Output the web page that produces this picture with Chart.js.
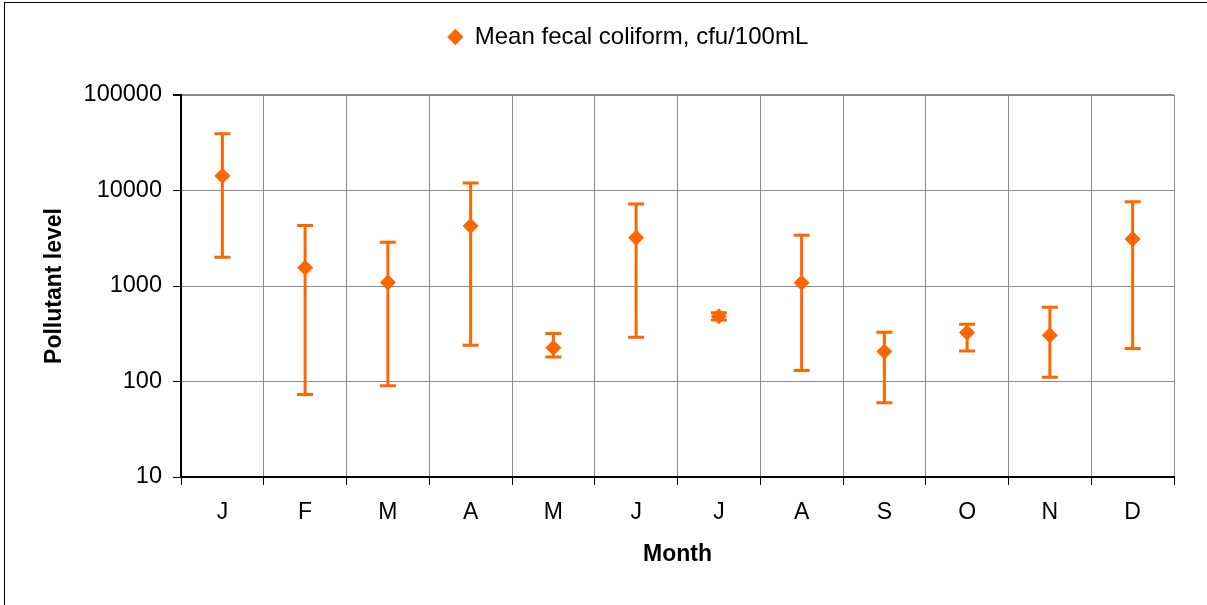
<!DOCTYPE html>
<html>
<head>
<meta charset="utf-8">
<script src="https://cdn.jsdelivr.net/npm/chart.js@4"></script>
<style>
  body { margin: 0; background: #fff; }
  #wrap { position: relative; width: 1207px; height: 605px; }
  #frame { position: absolute; left: 4px; top: 2px; right: 0; bottom: 0;
           border-left: 1px solid #000; border-top: 1px solid #000; pointer-events: none; }
</style>
</head>
<body>
<div id="wrap">
  <canvas id="coliformChart" width="1207" height="605"></canvas>
  <div id="frame"></div>
</div>
<script>
// Monthly fecal coliform
const months = ['J', 'F', 'M', 'A', 'M', 'J', 'J', 'A', 'S', 'O', 'N', 'D'];
const meanValues = [14250, 1550, 1090, 4260, 226, 3200, 482, 1080, 206, 325, 305, 3100];
const upperValues = [39300, 4300, 2880, 11950, 318, 7200, 525, 3400, 328, 398, 600, 7620];
const lowerValues = [2000, 73, 90, 240, 180, 290, 440, 130, 60, 209, 111, 221];
const yTickValues = [10, 100, 1000, 10000, 100000];

const orange = '#FF6600';
const gridGray = '#8c8c8c';
Chart.defaults.font.family = "'Liberation Sans', Arial, sans-serif";
Chart.defaults.color = '#000';

// Error bars drawn under the markers
const errorBars = {
    id: 'errorBars',
    beforeDatasetsDraw(chart) {
        const { ctx, scales: { y } } = chart;
        const meta = chart.getDatasetMeta(0);
        ctx.save();
        ctx.strokeStyle = orange;
        ctx.lineWidth = 3;
        meta.data.forEach((pt, i) => {
            const top = y.getPixelForValue(upperValues[i]);
            const bottom = y.getPixelForValue(lowerValues[i]);
            ctx.beginPath();
            ctx.moveTo(pt.x, top);
            ctx.lineTo(pt.x, bottom);
            ctx.moveTo(pt.x - 8, top);
            ctx.lineTo(pt.x + 8, top);
            ctx.moveTo(pt.x - 8, bottom);
            ctx.lineTo(pt.x + 8, bottom);
            ctx.stroke();
        });
        ctx.restore();
    }
};

// Fixed legend height and a small horizontal nudge
const legendBox = {
    id: 'legendBox',
    beforeInit(chart) {
        const originalFit = chart.legend.fit;
        chart.legend.fit = function fit() {
            originalFit.bind(chart.legend)();
            this.height = 95;
        };
    },
    afterLayout(chart) {
        chart.legend.left += 41;
        chart.legend.right += 41;
    }
};

new Chart(document.getElementById('coliformChart'), {
    type: 'line',
    data: {
        labels: months,
        datasets: [{
            label: 'Mean fecal coliform, cfu/100mL',
            data: meanValues,
            showLine: false,
            pointStyle: 'rectRot',
            pointRadius: 7.5,
            pointHoverRadius: 7.5,
            pointBorderWidth: 1,
            backgroundColor: orange,
            borderColor: orange
        }]
    },
    options: {
        responsive: false,
        animation: false,
        layout: { padding: { right: 33 } },
        plugins: {
            legend: {
                display: true,
                position: 'top',
                labels: {
                    usePointStyle: true,
                    boxHeight: 11,
                    pointStyleWidth: 15,
                    padding: 25,
                    font: { size: 24 },
                    color: '#000'
                }
            },
            tooltip: { enabled: false }
        },
        scales: {
            x: {
                offset: true,
                afterFit(scale) { scale.height = 128; },
                grid: {
                    offset: true,
                    color: gridGray,
                    lineWidth: ctx => ctx.index === months.length ? 2 : 1,
                    tickColor: '#000',
                    tickLength: 8
                },
                border: { color: '#000', width: 2 },
                ticks: { font: { size: 23 }, padding: 14, color: '#000' },
                title: {
                    display: true,
                    text: 'Month',
                    font: { size: 23, weight: 'bold' },
                    padding: { top: 0, bottom: 37 }
                }
            },
            y: {
                type: 'logarithmic',
                min: 10,
                max: 100000,
                afterFit(scale) { scale.width = 181; },
                afterBuildTicks(scale) {
                    scale.ticks = yTickValues.map(v => ({ value: v }));
                },
                grid: {
                    color: gridGray,
                    lineWidth: ctx => (ctx.tick && ctx.tick.value === 100000) ? 2 : 1,
                    tickColor: '#000',
                    tickLength: 8
                },
                border: { color: '#000', width: 2 },
                ticks: {
                    font: { size: 23.5 },
                    padding: 11,
                    color: '#000',
                    callback: v => String(v)
                },
                title: {
                    display: true,
                    text: 'Pollutant level',
                    font: { size: 23, weight: 'bold' },
                    padding: { top: 41, bottom: 0 }
                }
            }
        }
    },
    plugins: [errorBars, legendBox]
});
</script>
</body>
</html>
